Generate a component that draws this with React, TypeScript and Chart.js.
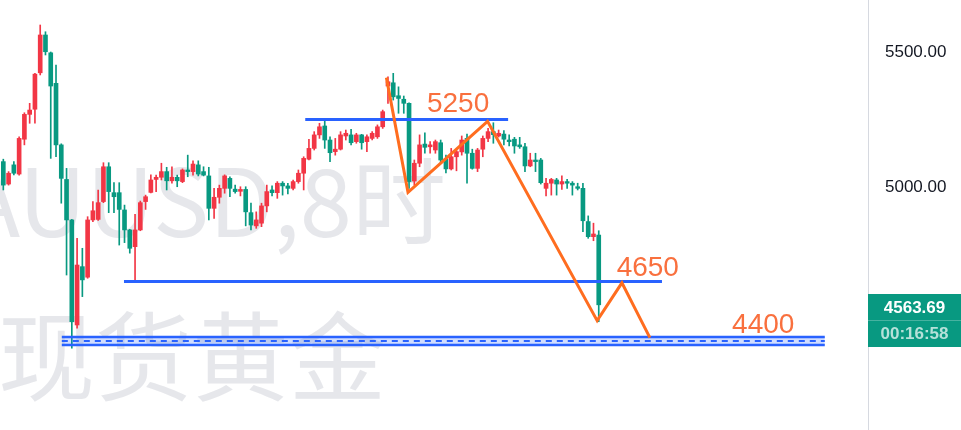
import React, { useEffect, useRef } from "react";
import { Chart, registerables } from "chart.js";

Chart.register(...registerables);

// XAUUSD 8h candles (oldest -> newest)
const openPrices = [
  5094, 5011, 5082, 5048, 5177, 5269, 5288, 5423, 5563, 5497,
  5384, 5156, 5028, 4878, 4489, 4705, 4666, 4878, 4880, 4946,
  5075, 4979, 4979, 4915, 4841, 4779, 4841, 4946, 4980, 5028,
  5036, 5057, 5023, 5036, 5020, 5063, 5057, 5082, 5057, 5041,
  4921, 4962, 4995, 5032, 4992, 4984, 4991, 4905, 4856, 4866,
  4930, 4989, 4979, 5014, 5004, 4995, 5020, 5051, 5103, 5143,
  5193, 5226, 5174, 5131, 5140, 5189, 5193, 5168, 5193, 5168,
  5180, 5186, 5223, 5374, 5386, 5338, 5325, 5310, 5022, 5088,
  5159, 5149, 5137, 5164, 5104, 5067, 5112, 5130, 5180, 5125,
  5069, 5140, 5180, 5205, 5189, 5196, 5174, 5177, 5156, 5149,
  5078, 5100, 5100, 4995, 5014, 5026, 5011, 5020, 5014, 5001,
  4995, 4872, 4816, 4822,
];
const highPrices = [
  5103, 5057, 5094, 5186, 5275, 5310, 5421, 5600, 5575, 5500,
  5452, 5160, 5069, 4880, 4810, 4773, 4890, 4946, 4989, 5090,
  5090, 5016, 5016, 4933, 4843, 4899, 4948, 4970, 5045, 5044,
  5088, 5073, 5075, 5044, 5067, 5118, 5097, 5097, 5075, 5073,
  4995, 5007, 5045, 5038, 5007, 5001, 5001, 4940, 4908, 4940,
  5007, 5004, 5020, 5020, 5014, 5026, 5063, 5112, 5177, 5205,
  5236, 5248, 5186, 5180, 5205, 5211, 5214, 5199, 5195, 5193,
  5205, 5230, 5285, 5408, 5421, 5371, 5337, 5312, 5100, 5193,
  5201, 5168, 5174, 5174, 5118, 5143, 5140, 5189, 5196, 5140,
  5143, 5189, 5217, 5238, 5211, 5209, 5193, 5184, 5184, 5162,
  5125, 5125, 5106, 5032, 5032, 5032, 5041, 5028, 5020, 5014,
  5014, 4893, 4866, 4838,
];
const lowPrices = [
  4989, 5007, 5045, 5044, 5156, 5236, 5236, 5415, 5489, 5106,
  5112, 4940, 4674, 4403, 4477, 4594, 4662, 4872, 4876, 4942,
  4905, 4905, 4785, 4794, 4755, 4650, 4838, 4917, 4978, 4983,
  5026, 4989, 5014, 5001, 5016, 5038, 5044, 5041, 5041, 4878,
  4884, 4940, 4977, 4964, 4977, 4967, 4856, 4841, 4847, 4853,
  4908, 4967, 4958, 4970, 4974, 4989, 5014, 4989, 5100, 5137,
  5180, 5143, 5094, 5118, 5137, 5174, 5156, 5162, 5140, 5131,
  5174, 5180, 5217, 5310, 5322, 5273, 5273, 4995, 5007, 5075,
  5125, 5125, 5125, 5088, 5052, 5063, 5060, 5118, 5014, 5066,
  5057, 5112, 5168, 5162, 5185, 5156, 5152, 5125, 5143, 5057,
  5075, 5057, 5011, 4967, 4970, 4970, 4991, 4995, 4970, 4989,
  4835, 4810, 4801, 4501,
];
const closePrices = [
  5007, 5051, 5051, 5180, 5269, 5285, 5418, 5563, 5501, 5374,
  5156, 5032, 4878, 4501, 4711, 4656, 4878, 4912, 4942, 5075,
  4983, 4964, 4917, 4841, 4773, 4841, 4942, 4964, 5026, 5036,
  5057, 5023, 5036, 5023, 5063, 5057, 5085, 5048, 5044, 4921,
  4962, 4995, 5041, 4995, 4983, 4991, 4908, 4859, 4878, 4930,
  4983, 4979, 5014, 5004, 4995, 5020, 5051, 5106, 5143, 5193,
  5223, 5174, 5127, 5140, 5193, 5199, 5164, 5193, 5164, 5186,
  5199, 5223, 5279, 5390, 5334, 5328, 5310, 5020, 5088, 5156,
  5147, 5156, 5168, 5100, 5067, 5112, 5131, 5174, 5125, 5069,
  5137, 5180, 5205, 5194, 5199, 5177, 5168, 5152, 5149, 5078,
  5100, 5094, 5016, 5014, 5028, 5011, 5020, 5014, 5007, 4995,
  4875, 4816, 4826, 4563.69,
];

const priceTicks = [5000, 5500];
const lastPrice = 4563.69;
const countdown = "00:16:58";

// Projected path (bar index, price)
const zigzagX = [72.7, 76.8, 91.9, 112.7, 117.4, 122.7];
const zigzagY = [5405, 4980, 5243, 4505, 4645, 4442];

// Horizontal levels
const resistanceLevel = 5250;
const resistanceFrom = 57.3;
const resistanceTo = 95.8;
const supportLevel = 4650;
const supportFrom = 22.9;
const supportTo = 125;
const zoneTop = 4444;
const zoneMid = 4430;
const zoneBottom = 4415;
const zoneFrom = 11.1;
const zoneTo = 155.9;

const levelTexts = ["5250", "4650", "4400"];
const levelTextX = [80.4, 116.4, 138.3];
const levelTextY = [5278, 4672, 4458];

const watermarkLines = ["XAUUSD,8时", "现货黄金"];

const UP = "#F23645";
const DOWN = "#089981";
const BLUE = "#2962FF";
const ORANGE = "#FF6D1F";

const watermarkPlugin = {
  id: "watermark",
  beforeDatasetsDraw(chart: any) {
    const { ctx } = chart;
    ctx.save();
    ctx.fillStyle = "rgba(222,223,228,0.75)";
    ctx.textBaseline = "alphabetic";
    ctx.font = '94px "Noto Sans CJK SC"';
    ctx.textAlign = "right";
    ctx.fillText(watermarkLines[0], 446, 237);
    ctx.font = '97px "Noto Sans CJK SC"';
    ctx.textAlign = "left";
    ctx.fillText(watermarkLines[1], -2, 393);
    ctx.restore();
  },
};

const levelTextPlugin = {
  id: "levelText",
  afterDatasetsDraw(chart: any) {
    const { ctx, scales } = chart;
    ctx.save();
    ctx.fillStyle = "#F9703E";
    ctx.font = '28px "Liberation Sans"';
    ctx.textAlign = "left";
    ctx.textBaseline = "alphabetic";
    levelTexts.forEach((t, i) => {
      ctx.fillText(t, scales.x.getPixelForValue(levelTextX[i]), scales.y.getPixelForValue(levelTextY[i]));
    });
    ctx.restore();
  },
};

const priceTagPlugin = {
  id: "priceTag",
  afterDraw(chart: any) {
    const { ctx, chartArea, scales } = chart;
    const y = Math.round(scales.y.getPixelForValue(lastPrice));
    const left = chartArea.right;
    const w = chart.width - left;
    const top = y - 11;
    const rowH = 26;
    ctx.save();
    ctx.fillStyle = DOWN;
    ctx.fillRect(left, top, w, rowH * 2 + 1);
    ctx.fillStyle = "rgba(255,255,255,0.25)";
    ctx.fillRect(left, top + rowH, w, 1);
    ctx.textAlign = "center";
    ctx.textBaseline = "middle";
    const cx = left + w / 2;
    ctx.fillStyle = "#ffffff";
    ctx.font = 'bold 17px "Liberation Sans"';
    ctx.fillText(lastPrice.toFixed(2), cx, top + rowH / 2 + 1);
    ctx.fillStyle = "rgba(255,255,255,0.7)";
    ctx.font = 'bold 17px "Liberation Sans"';
    ctx.fillText(countdown, cx, top + rowH + rowH / 2 + 1);
    ctx.restore();
  },
};

function hLine(from: number, to: number, level: number) {
  return [
    { x: from, y: level },
    { x: to, y: level },
  ];
}

export default function App() {
  const canvasRef = useRef<HTMLCanvasElement | null>(null);

  useEffect(() => {
    const canvas = canvasRef.current;
    if (!canvas) return;
    const idx = closePrices.map((_, i) => i);
    const colors = idx.map((i) => (closePrices[i] >= openPrices[i] ? UP : DOWN));

    const chart = new Chart(canvas, {
      type: "bar",
      data: {
        datasets: [
          {
            type: "line",
            label: "zigzag",
            data: zigzagX.map((x, i) => ({ x, y: zigzagY[i] })),
            borderColor: ORANGE,
            borderWidth: 3,
            pointRadius: 0,
            pointHoverRadius: 0,
            fill: false,
            tension: 0,
            order: 1,
          } as any,
          {
            type: "line",
            label: "resistance",
            data: hLine(resistanceFrom, resistanceTo, resistanceLevel),
            borderColor: BLUE,
            borderWidth: 3,
            pointRadius: 0,
            pointHoverRadius: 0,
            fill: false,
            order: 2,
          } as any,
          {
            type: "line",
            label: "support",
            data: hLine(supportFrom, supportTo, supportLevel),
            borderColor: BLUE,
            borderWidth: 3,
            pointRadius: 0,
            pointHoverRadius: 0,
            fill: false,
            order: 2,
          } as any,
          {
            type: "line",
            label: "zoneMid",
            data: hLine(zoneFrom, zoneTo, zoneMid),
            borderColor: BLUE,
            borderWidth: 2,
            borderDash: [6, 5],
            pointRadius: 0,
            pointHoverRadius: 0,
            fill: false,
            order: 2,
          } as any,
          {
            type: "line",
            label: "zoneTop",
            data: hLine(zoneFrom, zoneTo, zoneTop),
            borderColor: BLUE,
            borderWidth: 2.5,
            pointRadius: 0,
            pointHoverRadius: 0,
            fill: "+1",
            backgroundColor: "rgba(41,98,255,0.22)",
            order: 3,
          } as any,
          {
            type: "line",
            label: "zoneBottom",
            data: hLine(zoneFrom, zoneTo, zoneBottom),
            borderColor: BLUE,
            borderWidth: 2.5,
            pointRadius: 0,
            pointHoverRadius: 0,
            fill: false,
            order: 3,
          } as any,
          {
            type: "bar",
            label: "body",
            data: idx.map((i) => ({ x: i, y: [openPrices[i], closePrices[i]] })),
            backgroundColor: colors,
            barThickness: 4,
            minBarLength: 1,
            borderWidth: 0,
            borderSkipped: false,
            grouped: false,
            order: 4,
          } as any,
          {
            type: "bar",
            label: "wick",
            data: idx.map((i) => ({ x: i, y: [lowPrices[i], highPrices[i]] })),
            backgroundColor: colors,
            barThickness: 1,
            borderWidth: 0,
            borderSkipped: false,
            grouped: false,
            order: 5,
          } as any,
        ],
      },
      options: {
        responsive: false,
        animation: false,
        devicePixelRatio: 1,
        layout: { padding: 0, autoPadding: false },
        plugins: {
          legend: { display: false },
          tooltip: { enabled: false },
        },
        scales: {
          x: {
            type: "linear",
            min: -0.63,
            max: 164.1,
            offset: false,
            display: false,
          },
          y: {
            position: "right",
            min: 4100,
            max: 5692.6,
            grid: { display: false, drawTicks: false },
            border: { display: true, color: "#D6D9E0", width: 1 },
            afterBuildTicks(scale: any) {
              scale.ticks = priceTicks.map((v) => ({ value: v }));
            },
            afterFit(scale: any) {
              scale.width = 93;
              scale.paddingTop = 0;
              scale.paddingBottom = 0;
            },
            ticks: {
              padding: 17,
              color: "#131722",
              font: { family: "Liberation Sans", size: 17 },
              callback: (v: any) => Number(v).toFixed(2),
            },
          },
        },
      } as any,
      plugins: [watermarkPlugin, levelTextPlugin, priceTagPlugin],
    });
    return () => chart.destroy();
  }, []);

  return (
    <div style={{ position: "fixed", left: 0, top: 0, width: 961, height: 430, background: "#fff" }}>
      <canvas ref={canvasRef} width={961} height={430} style={{ display: "block" }} />
    </div>
  );
}
